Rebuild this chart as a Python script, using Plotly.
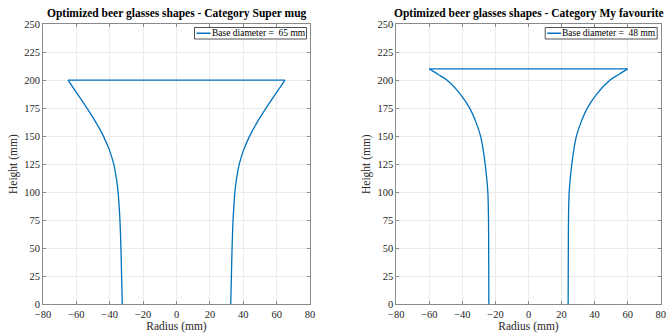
import plotly.graph_objects as go

# ---------------- data ----------------
titles = ["Optimized beer glasses shapes - Category Super mug",
          "Optimized beer glasses shapes - Category My favourite"]
base_diameters = [65, 48]

heights_1 = [0, 25, 50, 75, 100, 110, 125, 137.5, 150, 162.5, 175, 187.5, 200]
radius_1 = [32.5, 32.9, 33.3, 33.9, 35.0, 35.8, 37.6, 40.2, 43.8, 48.4, 53.7, 59.3, 65.0]

heights_2 = [0, 25, 50, 75, 100, 112.5, 125, 137.5, 150, 162.5, 175, 187.5, 200, 205, 210]
radius_2 = [24, 24.05, 24.1, 24.2, 24.6, 25.3, 26.2, 27.4, 29.0, 31.8, 35.6, 41.3, 49.4, 54.6, 60.0]

x_ticks = [-80, -60, -40, -20, 0, 20, 40, 60, 80]
y_ticks = [0, 25, 50, 75, 100, 125, 150, 175, 200, 225, 250]

# ---------------- style ----------------
W, H = 668, 335
FONT = "Liberation Serif"
BLUE = "#0072BD"
AXC = "#8a8a8a"
TXT = "#262626"
GRID = "#ebebeb"

doms_x = [(43 / W, 310 / W), (396.3 / W, 660.7 / W)]
dom_y = (1 - 304.3 / H, 1 - 24 / H)

fig = go.Figure()

series = [(heights_1, radius_1), (heights_2, radius_2)]
shapes = []
annotations = []
for i, (hs, rs) in enumerate(series):
    ax = "" if i == 0 else str(i + 1)
    line_style = dict(color=BLUE, width=1.3)
    # left wall, right wall (smooth), and top rim
    fig.add_trace(go.Scatter(x=[-r for r in rs], y=hs, mode="lines",
                             line=dict(line_style, shape="spline", smoothing=1.0),
                             showlegend=False, xaxis="x" + ax, yaxis="y" + ax))
    fig.add_trace(go.Scatter(x=rs, y=hs, mode="lines",
                             line=dict(line_style, shape="spline", smoothing=1.0),
                             showlegend=False, xaxis="x" + ax, yaxis="y" + ax))
    fig.add_trace(go.Scatter(x=[-rs[-1], rs[-1]], y=[hs[-1], hs[-1]], mode="lines",
                             line=line_style,
                             name=f"Base diameter =  {base_diameters[i]} mm",
                             showlegend=False, xaxis="x" + ax, yaxis="y" + ax))
    axis_common = dict(
        showline=True, mirror="ticks", linecolor=AXC, linewidth=1,
        ticks="inside", ticklen=3, tickcolor=AXC,
        showgrid=True, gridcolor=GRID, gridwidth=1,
        zeroline=False, automargin=False,
        tickfont=dict(family=FONT, size=10.5, color=TXT),
    )
    fig.update_layout(**{
        "xaxis" + ax: dict(axis_common, domain=doms_x[i], range=[-80, 80],
                           tickvals=x_ticks, anchor="y" + ax,
                           title=dict(text="Radius (mm)", standoff=2,
                                      font=dict(family=FONT, size=11.5, color=TXT))),
        "yaxis" + ax: dict(axis_common, domain=dom_y, range=[0, 250],
                           tickvals=y_ticks, anchor="x" + ax,
                           title=dict(text="Height (mm)", standoff=4,
                                      font=dict(family=FONT, size=11.5, color=TXT))),
    })
    x0p, x1p = doms_x[i]
    # subplot title
    annotations.append(dict(
        text=f"<b>{titles[i]}</b>", x=(x0p + x1p) / 2, y=1 - 14 / H,
        xref="paper", yref="paper", showarrow=False, xanchor="center", yanchor="middle",
        font=dict(family=FONT, size=11.5, color="black")))
    # legend box (top-right, inside axes)
    lx1 = x1p - 3.5 / W
    lx0 = lx1 - 112 / W
    ly1 = dom_y[1] - 3.5 / H
    ly0 = ly1 - 11.5 / H
    shapes.append(dict(type="rect", xref="paper", yref="paper",
                       x0=lx0, x1=lx1, y0=ly0, y1=ly1,
                       line=dict(color=TXT, width=0.8), fillcolor="white", layer="above"))
    shapes.append(dict(type="line", xref="paper", yref="paper",
                       x0=lx0 + 2 / W, x1=lx0 + 16 / W, y0=(ly0 + ly1) / 2, y1=(ly0 + ly1) / 2,
                       line=dict(color=BLUE, width=1.5), layer="above"))
    annotations.append(dict(
        text=f"Base diameter =  {base_diameters[i]} mm", x=lx0 + 15 / W, y=(ly0 + ly1) / 2,
        xref="paper", yref="paper", showarrow=False, xanchor="left", yanchor="middle",
        font=dict(family=FONT, size=9.5, color="black")))

fig.update_layout(
    width=W, height=H,
    margin=dict(l=0, r=0, t=0, b=0),
    paper_bgcolor="white", plot_bgcolor="white",
    shapes=shapes, annotations=annotations,
    showlegend=False,
)

fig.write_html("out.html")
